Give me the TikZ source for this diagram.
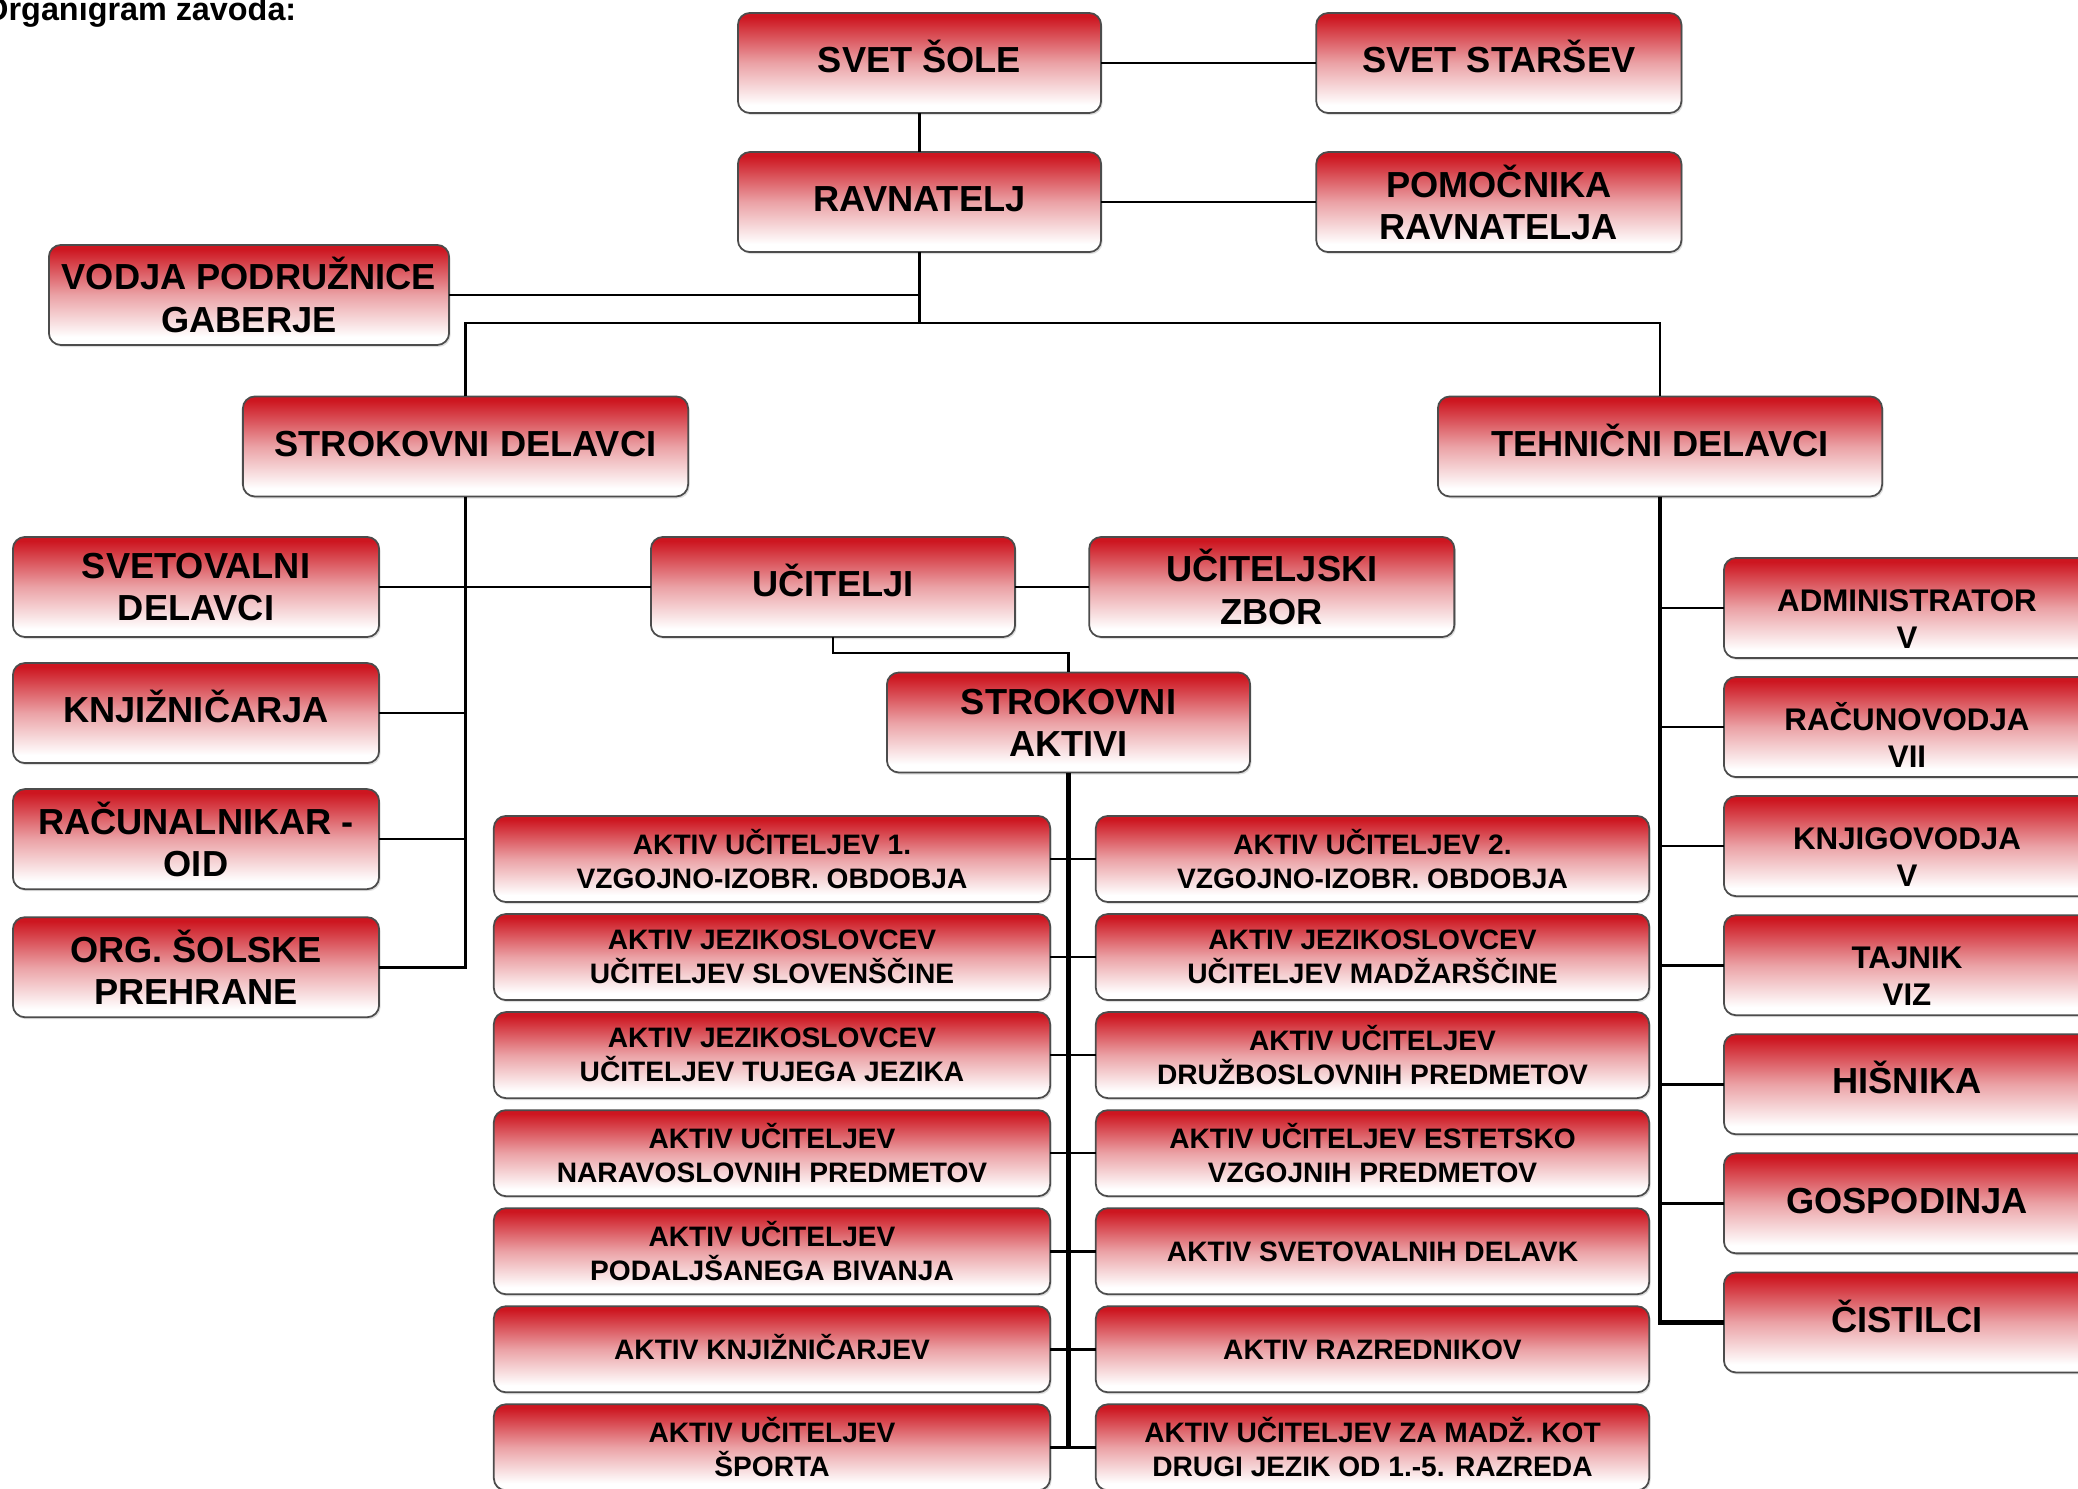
\documentclass[tikz,border=0pt]{standalone}
\usepackage{fontspec}
\setmainfont{Liberation Sans}
\usepackage{tikz}
\usetikzlibrary{positioning, shadows}
\usepackage{xcolor}

\definecolor{boxred}{RGB}{205,22,32}
\pgfdeclareverticalshading{boxfade}{100bp}{color(0bp)=(white); color(29bp)=(white); color(50bp)=(boxred!40!white); color(73bp)=(boxred); color(100bp)=(boxred)}

\newcommand{\bigtxt}{\bfseries\fontsize{10.3}{12}\selectfont}
\newcommand{\techtxt}{\bfseries\fontsize{8.9}{10.5}\selectfont}
\newcommand{\aktivtxt}{\bfseries\fontsize{8}{9.6}\selectfont}
\newcommand{\topgap}{\rule{0pt}{12.5pt}}

\begin{document}
\begin{tikzpicture}[
    x=0.01cm, y=-0.01cm,
    box/.style={draw=black!70, line width=0.5pt, rounded corners=0.12cm, shading=boxfade,
        drop shadow={shadow xshift=0.015cm, shadow yshift=-0.02cm, opacity=0.25},
        minimum height=1cm, inner sep=2pt, outer sep=0pt, align=center, font=\bigtxt},
    oneline/.style={text height=7.4pt, text depth=1.9pt},
    aktivbox/.style={box, minimum height=0.86cm, font=\aktivtxt},
    techbox/.style={box, minimum width=3.66cm, font=\techtxt},
    link/.style={line width=0.75pt},
    spine/.style={line width=1.2pt},
]
    \useasboundingbox (0,0) rectangle (2078,1489);
    \clip (0,0) rectangle (2078,1489);

    % Title
    \node[anchor=base east, inner sep=0pt, font=\bfseries\fontsize{9.2}{11}\selectfont] (titel) at (297,21) {Organigram zavoda:};

    % Top
    \node[box, oneline, minimum width=3.63cm] (svet) at (919.5,63) {SVET ŠOLE};
    \node[box, oneline, minimum width=3.65cm, right=2.15cm of svet] (starsi) {SVET STARŠEV};
    \node[box, oneline, minimum width=3.63cm, below=0.39cm of svet] (ravnatelj) {RAVNATELJ};
    \node[box, minimum width=3.65cm, right=2.15cm of ravnatelj] (pomocnika) {POMOČNIKA\\RAVNATELJA};
    \node[box, minimum width=4cm] (vodja) at (249,295) {VODJA PODRUŽNICE\\GABERJE};
    \coordinate (split) at (919.5,323);

    % Two branches
    \node[box, oneline, minimum width=4.45cm] (strokovni) at (465.5,446.5) {STROKOVNI DELAVCI};
    \node[box, oneline, minimum width=4.44cm] (tehnicni) at (1660,446.5) {TEHNIČNI DELAVCI};

    % Strokovni delavci
    \node[box, minimum width=3.66cm] (svetovalni) at (196,587) {SVETOVALNI\\DELAVCI};
    \node[box, oneline, minimum width=3.66cm, below=0.26cm of svetovalni] (knjiznicarja) {KNJIŽNIČARJA};
    \node[box, minimum width=3.66cm, below=0.26cm of knjiznicarja] (racunalnikar) {RAČUNALNIKAR -\\OID};
    \node[box, minimum width=3.66cm, below=0.28cm of racunalnikar] (prehrana) {ORG. ŠOLSKE\\PREHRANE};

    \node[box, oneline, minimum width=3.64cm] (ucitelji) at (833,587) {UČITELJI};
    \node[box, minimum width=3.65cm, right=0.74cm of ucitelji] (zbor) {UČITELJSKI\\ZBOR};
    \node[box, minimum width=3.63cm] (aktivi) at (1068.5,722.5) {STROKOVNI\\AKTIVI};

    % Aktivi, left
    \node[aktivbox, minimum width=5.56cm] (a1l) at (772,859) {AKTIV UČITELJEV 1.\\VZGOJNO-IZOBR. OBDOBJA};
    \node[aktivbox, minimum width=5.56cm, below=0.12cm of a1l] (a2l) {AKTIV JEZIKOSLOVCEV\\UČITELJEV SLOVENŠČINE};
    \node[aktivbox, minimum width=5.56cm, below=0.12cm of a2l] (a3l) {AKTIV JEZIKOSLOVCEV\\UČITELJEV TUJEGA JEZIKA};
    \node[aktivbox, minimum width=5.56cm, below=0.12cm of a3l] (a4l) {AKTIV UČITELJEV\\NARAVOSLOVNIH PREDMETOV};
    \node[aktivbox, minimum width=5.56cm, below=0.12cm of a4l] (a5l) {AKTIV UČITELJEV\\PODALJŠANEGA BIVANJA};
    \node[aktivbox, minimum width=5.56cm, text height=5.8pt, text depth=0pt, below=0.12cm of a5l] (a6l) {AKTIV KNJIŽNIČARJEV};
    \node[aktivbox, minimum width=5.56cm, below=0.12cm of a6l] (a7l) {AKTIV UČITELJEV\\ŠPORTA};

    % Aktivi, right
    \node[aktivbox, minimum width=5.53cm] (a1r) at (1372.5,859) {AKTIV UČITELJEV 2.\\VZGOJNO-IZOBR. OBDOBJA};
    \node[aktivbox, minimum width=5.53cm, below=0.12cm of a1r] (a2r) {AKTIV JEZIKOSLOVCEV\\UČITELJEV MADŽARŠČINE};
    \node[aktivbox, minimum width=5.53cm, below=0.12cm of a2r] (a3r) {AKTIV UČITELJEV\\DRUŽBOSLOVNIH PREDMETOV};
    \node[aktivbox, minimum width=5.53cm, below=0.12cm of a3r] (a4r) {AKTIV UČITELJEV ESTETSKO\\VZGOJNIH PREDMETOV};
    \node[aktivbox, minimum width=5.53cm, text height=5.8pt, text depth=0pt, below=0.12cm of a4r] (a5r) {AKTIV SVETOVALNIH DELAVK};
    \node[aktivbox, minimum width=5.53cm, text height=5.8pt, text depth=0pt, below=0.12cm of a5r] (a6r) {AKTIV RAZREDNIKOV};
    \node[aktivbox, minimum width=5.53cm, below=0.12cm of a6r] (a7r) {AKTIV UČITELJEV ZA MADŽ. KOT\\DRUGI JEZIK OD 1.-5. RAZREDA};

    % Tehnicni delavci
    \node[techbox] (admin) at (1907,608) {\topgap ADMINISTRATOR\\V};
    \node[techbox, below=0.19cm of admin] (racunovodja) {\topgap RAČUNOVODJA\\VII};
    \node[techbox, below=0.19cm of racunovodja] (knjigovodja) {\topgap KNJIGOVODJA\\V};
    \node[techbox, below=0.19cm of knjigovodja] (tajnik) {\topgap TAJNIK\\VIZ};
    \node[techbox, oneline, font=\bigtxt, below=0.19cm of tajnik] (hisnika) {HIŠNIKA};
    \node[techbox, oneline, font=\bigtxt, below=0.19cm of hisnika] (gospodinja) {GOSPODINJA};
    \node[techbox, oneline, font=\bigtxt, below=0.19cm of gospodinja] (cistilci) {ČISTILCI};

    % Lines
    \draw[link] (svet) -- (starsi);
    \draw[link] (svet) -- (ravnatelj);
    \draw[link] (ravnatelj) -- (pomocnika);
    \draw[link] (ravnatelj) -- (split);
    \draw[link] (vodja) -- (vodja -| split);
    \draw[link] (strokovni) |- (split) -| (tehnicni);

    \draw[link] (strokovni) |- (prehrana);
    \draw[link] (svetovalni) -- (ucitelji);
    \draw[link] (knjiznicarja) -- (knjiznicarja -| strokovni);
    \draw[link] (racunalnikar) -- (racunalnikar -| strokovni);
    \draw[link] (ucitelji) -- (zbor);
    \draw[link] (ucitelji.south) -- ++(0,16) -| (aktivi.north);

    \draw[spine] (aktivi) -- (aktivi |- a7l);
    \draw[link] (a1l) -- (a1r);
    \draw[link] (a2l) -- (a2r);
    \draw[link] (a3l) -- (a3r);
    \draw[link] (a4l) -- (a4r);
    \draw[link] (a5l) -- (a5r);
    \draw[link] (a6l) -- (a6r);
    \draw[link] (a7l) -- (a7r);

    \draw[spine] (tehnicni) |- (cistilci);
    \draw[link] (admin) -- (admin -| tehnicni);
    \draw[link] (racunovodja) -- (racunovodja -| tehnicni);
    \draw[link] (knjigovodja) -- (knjigovodja -| tehnicni);
    \draw[link] (tajnik) -- (tajnik -| tehnicni);
    \draw[link] (hisnika) -- (hisnika -| tehnicni);
    \draw[link] (gospodinja) -- (gospodinja -| tehnicni);

\end{tikzpicture}
\end{document}
